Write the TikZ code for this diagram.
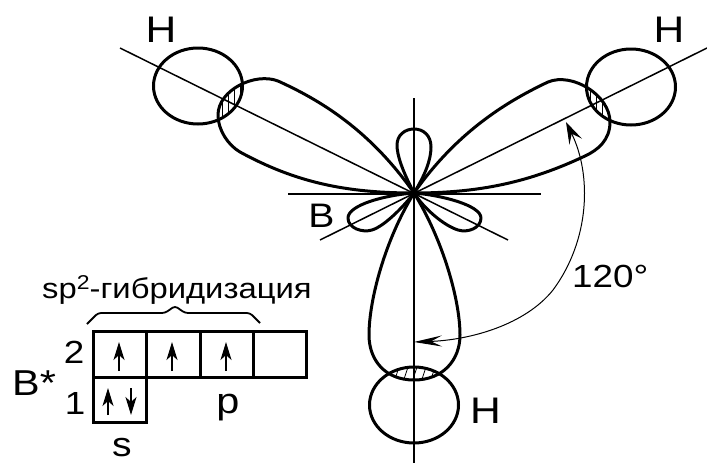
\documentclass[tikz,border=0pt]{standalone}
\usepackage{fontspec}
\setmainfont[FakeStretch=1.15]{Liberation Sans}
\usetikzlibrary{arrows.meta, positioning, shapes.geometric}

% Orbital outlines, all in picture pixels
\newcommand{\lobeleft}{(414,193) .. controls (370,130) and (320,100) .. (278,81) .. controls (255,72) and (218,90) .. (218,115) .. controls (218,130) and (228,145) .. (240,152) .. controls (295,182) and (345,193) .. (414,193)}
\newcommand{\loberight}{(414,193) .. controls (458,130) and (510,100) .. (548,82) .. controls (572,72) and (610,95) .. (610,122) .. controls (610,140) and (598,150) .. (585,156) .. controls (530,182) and (480,193) .. (414,193)}
\newcommand{\lobedown}{(414,193) .. controls (385,240) and (369,300) .. (369,335) .. controls (369,360) and (385,380) .. (414,380) .. controls (443,380) and (460,360) .. (460,335) .. controls (460,300) and (443,240) .. (414,193)}

\begin{document}
\begin{tikzpicture}[x=1pt, y=-1pt]
	% Define styles
	\tikzstyle{orbital} = [draw, line width=3pt, line join=round]
	\tikzstyle{hydrogen} = [draw, ellipse, line width=3pt, minimum width=89pt, minimum height=76pt, inner sep=0pt]
	\tikzstyle{axis} = [draw, line width=1.5pt]
	\tikzstyle{hatch} = [draw, line width=0.8pt]
	\tikzstyle{cell} = [draw, rectangle, line width=2.8pt, minimum width=53.5pt, minimum height=45.5pt, inner sep=0pt]
	\tikzstyle{spin} = [draw, line width=1.8pt, -{Stealth[length=18pt, width=11pt, inset=5pt]}]
	\tikzstyle{angle} = [draw, line width=1pt, {Stealth[length=22pt, width=14pt, inset=9pt]}-{Stealth[length=28pt, width=11pt, inset=11pt]}]
	\tikzstyle{atom} = [font=\fontsize{37}{37}\selectfont, inner sep=0pt]
	\tikzstyle{small} = [font=\fontsize{32}{32}\selectfont, inner sep=0pt]
	\tikzstyle{medium} = [font=\fontsize{36}{36}\selectfont, inner sep=0pt]

	\useasboundingbox (0,0) rectangle (707,464);

	% Axes through the boron atom
	\coordinate (boron) at (414,193);
	\coordinate (axis_top) at (414,98);
	\coordinate (axis_bottom) at (414,463);
	\coordinate (axis_west) at (288,194);
	\coordinate (axis_east) at (541,194);
	\coordinate (axis_nw) at (120,48);
	\coordinate (axis_se) at (508,240);
	\coordinate (axis_ne) at (707,48);
	\coordinate (axis_sw) at (320,240);
	\draw [axis] (axis_top) -- (axis_bottom);
	\draw [axis] (axis_west) -- (axis_east);
	\draw [axis] (axis_nw) -- (axis_se);
	\draw [axis] (axis_ne) -- (axis_sw);

	% Overlap regions
	\begin{scope}
		\clip (198,86) ellipse [x radius=44.5, y radius=38];
		\clip \lobeleft;
		\foreach \x in {222,228,234,240} {
			\draw [hatch] (\x,75) -- (\x,125);
		}
	\end{scope}
	\begin{scope}
		\clip (631,87) ellipse [x radius=44.5, y radius=38];
		\clip \loberight;
		\foreach \x in {590,596,602,608} {
			\draw [hatch] (\x,75) -- (\x,130);
		}
	\end{scope}
	\begin{scope}
		\clip (414,405) ellipse [x radius=44.5, y radius=38];
		\clip \lobedown;
		\foreach \x in {394,403,412,421,430} {
			\draw [hatch] (\x,382) -- (\x+6,364);
		}
	\end{scope}

	% Hybrid lobes
	\draw [orbital] \lobeleft;
	\draw [orbital] \loberight;
	\draw [orbital] \lobedown;

	% Small back lobes
	\draw [orbital] (414,193) .. controls (402,170) and (397,155) .. (397,145) .. controls (397,135) and (405,129) .. (414,129) .. controls (423,129) and (431,135) .. (431,147) .. controls (431,160) and (425,175) .. (414,193);
	\draw [orbital] (414,193) .. controls (385,195) and (348,205) .. (348,218) .. controls (348,228) and (362,233) .. (372,230) .. controls (385,226) and (405,205) .. (414,193);
	\draw [orbital] (414,193) .. controls (440,195) and (481,205) .. (481,218) .. controls (481,228) and (468,233) .. (458,230) .. controls (445,226) and (425,210) .. (414,193);

	% Hydrogen atoms
	\node [hydrogen] (h_left) at (198,86) {};
	\node [hydrogen] (h_right) at (631,87) {};
	\node [hydrogen] (h_bottom) at (414,405) {};
	\node [atom] (label_h_left) at (161,29.5) {H};
	\node [atom] (label_h_right) at (669,29.5) {H};
	\node [atom] (label_h_bottom) at (485.5,411) {H};
	\node [medium, font=\fontsize{34}{34}\selectfont] (label_b) at (321.5,216) {B};

	% Bond angle
	\coordinate (angle_start) at (566,122);
	\coordinate (angle_end) at (414,342);
	\draw [angle] (angle_start) .. controls (592,175) and (590,240) .. (553,290) .. controls (525,325) and (470,340) .. (angle_end);
	\node [small, anchor=base west] (label_angle) at (572,287) {120°};

	% Cell diagram
	\node [cell] (c_s2) at (120,354.5) {};
	\node [cell] (c_p1) at (173.5,354.5) {};
	\node [cell] (c_p2) at (227,354.5) {};
	\node [cell] (c_p3) at (280,354.5) {};
	\node [cell] (c_s1) at (120,400) {};
	\draw [spin] (119,371) -- (119,342);
	\draw [spin] (172,371) -- (172,342);
	\draw [spin] (226,371) -- (226,342);
	\draw [spin] (108,415) -- (108,388);
	\draw [spin] (131,388) -- (131,415);

	% Brace over the hybrid cells
	\coordinate (brace_west) at (87,324);
	\coordinate (brace_east) at (260,323);
	\draw [line width=1.8pt, rounded corners=3pt] (brace_west) -- (98,313) -- (165,313) -- (175,306) -- (185,313) -- (250,313) -- (brace_east);
	\node [font=\fontsize{28.5}{29}\selectfont, inner sep=0pt, anchor=base west] (label_hybrid) at (42,298) {sp\raisebox{9pt}{\fontsize{20}{20}\selectfont 2}-гибридизация};

	% Cell labels
	\node [small] (label_2) at (74,352) {2};
	\node [small] (label_1) at (75,403) {1};
	\node [medium, anchor=base west] (label_star) at (12,395) {B*};
	\node [medium, anchor=base] (label_p) at (228,413) {p};
	\node [medium, font=\fontsize{34}{34}\selectfont, anchor=base] (label_s) at (122,456.5) {s};
\end{tikzpicture}
\end{document}
